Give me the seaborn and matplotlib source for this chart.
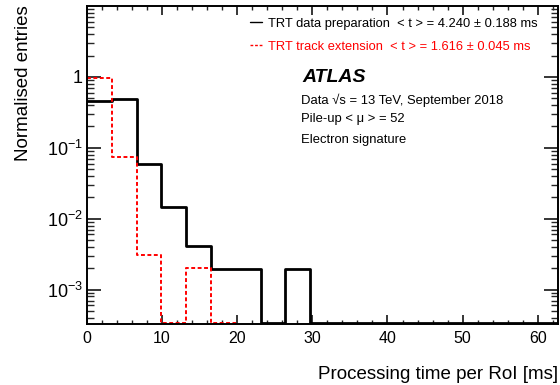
import numpy as np
import matplotlib
matplotlib.use("Agg")
import matplotlib.pyplot as plt
import seaborn as sns
from matplotlib.ticker import FixedLocator, FixedFormatter, MultipleLocator, NullFormatter

# ---- data ----
bin_edges = [0.0, 3.3, 6.6, 9.9, 13.2, 16.5, 19.8, 23.1, 26.4, 29.7, 33.0,
             36.3, 39.6, 42.9, 46.2, 49.5, 52.8, 56.1, 59.4, 62.7]
black_vals = [0.454, 0.49, 0.0597, 0.0147, 0.0041, 0.00195, 0.00195, 0.0, 0.00195,
              0.0, 0.0, 0.0, 0.0, 0.0, 0.0, 0.0, 0.0, 0.0, 0.0]
red_edges = [0.0, 3.3, 6.6, 9.9, 13.2, 16.5, 19.8]
red_vals = [0.98, 0.0736, 0.0031, 0.0, 0.00200, 0.0]
black_label = "TRT data preparation  < t > = 4.240 \u00b1 0.188 ms"
red_label = "TRT track extension  < t > = 1.616 \u00b1 0.045 ms"
ytick_vals = [1e-3, 1e-2, 1e-1, 1.0]
ytick_labels = [r"$10^{-3}$", r"$10^{-2}$", r"$10^{-1}$", "1"]
xtick_vals = [0, 10, 20, 30, 40, 50, 60]

YMIN, YMAX = 3.27e-4, 10

sns.set_theme(style="ticks")
plt.rcParams["font.family"] = ["Liberation Sans", "DejaVu Sans"]
plt.rcParams["mathtext.fontset"] = "custom"
plt.rcParams["mathtext.rm"] = "Liberation Sans"
plt.rcParams["mathtext.it"] = "Liberation Sans:italic"
plt.rcParams["mathtext.bf"] = "Liberation Sans:bold"

fig = plt.figure(figsize=(5.6, 3.85), dpi=100)
ax = fig.add_axes([87/560, 1-324/385, (558-87)/560, (324-6)/385])

def centers(edges):
    e = np.asarray(edges)
    return (e[:-1] + e[1:]) / 2

def floor_zero(vals):
    # empty bins are drawn along the lower edge of the frame, as in ROOT
    return np.maximum(np.asarray(vals, dtype=float), YMIN * 1.02)

sns.histplot(x=centers(bin_edges), weights=floor_zero(black_vals), bins=bin_edges,
             element="step", fill=False, color="black", linewidth=2.0, ax=ax,
             label=black_label)
sns.histplot(x=centers(red_edges), weights=floor_zero(red_vals), bins=red_edges,
             element="step", fill=False, color="red", linewidth=1.4,
             linestyle=(0, (2.0, 1.3)), ax=ax, label=red_label)

ax.set_yscale("log")
ax.set_xlim(0, 62.7)
ax.set_ylim(YMIN, YMAX)

ax.xaxis.set_major_locator(FixedLocator(xtick_vals))
ax.xaxis.set_minor_locator(MultipleLocator(2))
ax.yaxis.set_major_locator(FixedLocator(ytick_vals))
ax.yaxis.set_major_formatter(FixedFormatter(ytick_labels))
minors = [m * 10.0**d for d in range(-4, 1) for m in range(2, 10)]
ax.yaxis.set_minor_locator(FixedLocator(minors))
ax.yaxis.set_minor_formatter(NullFormatter())

for s in ax.spines.values():
    s.set_linewidth(1.4)
    s.set_color("black")
    s.set_visible(True)
    s.set_zorder(3)

ax.tick_params(axis="x", which="major", direction="in", length=6.5, width=1.1,
               top=True, bottom=True, labelsize=11.5, pad=5, colors="black")
ax.tick_params(axis="x", which="minor", direction="in", length=3.2, width=1.0,
               top=True, bottom=True)
ax.tick_params(axis="y", which="major", direction="in", length=10, width=1.1,
               left=True, right=True, labelsize=13, pad=3, colors="black")
ax.tick_params(axis="y", which="minor", direction="in", length=5, width=1.0,
               left=True, right=True)

ax.set_xlabel("Processing time per RoI [ms]", fontsize=13.5, color="black", loc="right")
ax.xaxis.label.set_va("baseline")
ax.xaxis.set_label_coords(1.0, (324-379)/318)
ax.set_ylabel("Normalised entries", fontsize=13.5, color="black", loc="top")
ax.yaxis.label.set_va("baseline")
ax.yaxis.set_label_coords((28-87)/472, 1.003)

leg = ax.legend(loc="upper left", bbox_to_anchor=(250/560, 1-17.5/385),
                bbox_transform=fig.transFigure, frameon=False, fontsize=9.3,
                handlelength=0.92, handletextpad=0.46, labelspacing=0.85,
                borderpad=0, borderaxespad=0, labelcolor=["black", "red"])
for h in leg.get_lines():
    h.set_linewidth(1.0)

fig.text(302/560, 1-81.5/385, "ATLAS", fontsize=14, fontweight="bold",
         fontstyle="italic", ha="left", va="baseline", color="black")
fig.text(301/560, 1-104/385, "Data \u221as = 13 TeV, September 2018", fontsize=9.4,
         ha="left", va="baseline", color="black")
fig.text(301/560, 1-121.7/385, "Pile-up < \u03bc > = 52", fontsize=9.4,
         ha="left", va="baseline", color="black")
fig.text(301/560, 1-142.7/385, "Electron signature", fontsize=9.4,
         ha="left", va="baseline", color="black")

fig.savefig("out.png", dpi=100, facecolor="white")
